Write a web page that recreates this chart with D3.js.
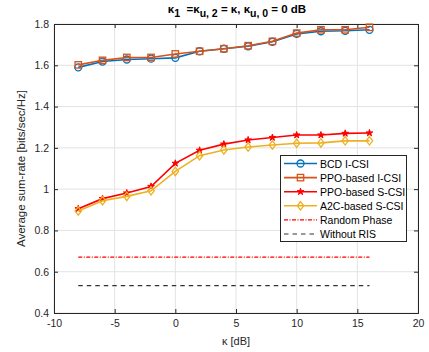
<!DOCTYPE html>
<html>
<head>
<meta charset="utf-8">
<script src="https://cdn.jsdelivr.net/npm/d3@7"></script>
<style>
  body { margin: 0; background: #fff; }
  text { font-family: "Liberation Sans", Arial, sans-serif; }
</style>
</head>
<body>
<svg id="svg" width="429" height="352"></svg>
<script>
const w = 429;
const h = 352;
const margin = { left: 54, right: 11, top: 24, bottom: 39 };

// data
const kappa = [-8, -6, -4, -2, 0, 2, 4, 6, 8, 10, 12, 14, 16];
const bcdICSI = [1.59, 1.618, 1.628, 1.632, 1.636, 1.668, 1.68, 1.692, 1.714, 1.752, 1.765, 1.767, 1.772];
const ppoICSI = [1.602, 1.624, 1.638, 1.638, 1.655, 1.668, 1.68, 1.695, 1.716, 1.756, 1.772, 1.772, 1.784];
const ppoSCSI = [0.905, 0.954, 0.981, 1.013, 1.125, 1.188, 1.218, 1.238, 1.25, 1.262, 1.262, 1.27, 1.272];
const a2cSCSI = [0.894, 0.944, 0.965, 0.992, 1.086, 1.162, 1.19, 1.204, 1.214, 1.222, 1.224, 1.234, 1.234];
const randomPhase = [0.671, 0.671, 0.671, 0.671, 0.671, 0.671, 0.671, 0.671, 0.671, 0.671, 0.671, 0.671, 0.671];
const withoutRIS = [0.533, 0.533, 0.533, 0.533, 0.533, 0.533, 0.533, 0.533, 0.533, 0.533, 0.533, 0.533, 0.533];

const xTicks = [-10, -5, 0, 5, 10, 15, 20];
const yTicks = [0.4, 0.6, 0.8, 1, 1.2, 1.4, 1.6, 1.8];

const series = [
  { name: "BCD I-CSI", values: bcdICSI, color: "#0072BD", marker: "circle", dash: null },
  { name: "PPO-based I-CSI", values: ppoICSI, color: "#D95319", marker: "square", dash: null },
  { name: "PPO-based S-CSI", values: ppoSCSI, color: "#FF0000", marker: "star", dash: null },
  { name: "A2C-based S-CSI", values: a2cSCSI, color: "#EDB120", marker: "diamond", dash: null },
  { name: "Random Phase", values: randomPhase, color: "#FF0000", marker: null, dash: "4,1.5,1,1.5" },
  { name: "Without RIS", values: withoutRIS, color: "#333333", marker: null, dash: "4.5,4" }
];

const svg = d3.select("#svg");

const xScale = d3.scaleLinear([-10, 20], [margin.left, w - margin.right]);
const yScale = d3.scaleLinear([0.4, 1.8], [h - margin.bottom, margin.top]);

const axisColor = "#262626";

// grid
svg.append("g")
  .selectAll("line")
  .data(xTicks)
  .join("line")
  .attr("x1", (d) => xScale(d))
  .attr("x2", (d) => xScale(d))
  .attr("y1", margin.top)
  .attr("y2", h - margin.bottom)
  .attr("stroke", "#e3e3e3")
  .attr("stroke-width", 1);

svg.append("g")
  .selectAll("line")
  .data(yTicks)
  .join("line")
  .attr("x1", margin.left)
  .attr("x2", w - margin.right)
  .attr("y1", (d) => yScale(d))
  .attr("y2", (d) => yScale(d))
  .attr("stroke", "#e3e3e3")
  .attr("stroke-width", 1);

// axes
const fmt = (d) => String(Math.round(d * 10) / 10);

svg.append("g")
  .attr("transform", `translate(0,${h - margin.bottom})`)
  .call(d3.axisBottom(xScale).tickValues(xTicks).tickSize(-4).tickPadding(7).tickFormat(fmt));

svg.append("g")
  .attr("transform", `translate(${margin.left},0)`)
  .call(d3.axisLeft(yScale).tickValues(yTicks).tickSize(-4).tickPadding(5).tickFormat(fmt));

// top/right box with ticks
svg.append("g")
  .attr("transform", `translate(0,${margin.top})`)
  .call(d3.axisTop(xScale).tickValues(xTicks).tickSize(-4).tickFormat(""));
svg.append("g")
  .attr("transform", `translate(${w - margin.right},0)`)
  .call(d3.axisRight(yScale).tickValues(yTicks).tickSize(-4).tickFormat(""));

svg.selectAll(".domain").attr("stroke", axisColor).attr("stroke-width", 1);
svg.selectAll(".tick line").attr("stroke", axisColor);
svg.selectAll(".tick text")
  .attr("fill", axisColor)
  .style("font-size", "10.5px")
  .style("font-family", "Liberation Sans, Arial, sans-serif");

// axis labels
svg.append("text")
  .attr("x", xScale(5))
  .attr("y", 345)
  .attr("text-anchor", "middle")
  .attr("fill", axisColor)
  .style("font-size", "11px")
  .text("κ [dB]");

svg.append("text")
  .attr("transform", `translate(25,${yScale(1.1)}) rotate(-90)`)
  .attr("text-anchor", "middle")
  .attr("fill", axisColor)
  .style("font-size", "11.5px")
  .text("Average sum-rate [bits/sec/Hz]");

// title
const title = svg.append("text")
  .attr("x", 237)
  .attr("y", 13)
  .attr("text-anchor", "middle")
  .attr("fill", "#000")
  .style("font-size", "11.5px")
  .style("font-weight", "bold");
const titleParts = [
  ["κ", 0], ["1", 1], ["  =κ", 0], ["u, 2", 1], [" = κ, κ", 0], ["u, 0", 1], [" = 0 dB", 0]
];
titleParts.forEach(([t, sub], i) => {
  const prevSub = i > 0 ? titleParts[i - 1][1] : 0;
  const dy = sub === prevSub ? 0 : (sub ? 4 : -4);
  title.append("tspan")
    .attr("dy", dy)
    .style("font-size", sub ? "10.5px" : "11.5px")
    .attr("xml:space", "preserve")
    .text(t);
});

// markers
const drawMarker = (g, type, color, x, y) => {
  if (type === "circle") {
    g.append("circle").attr("cx", x).attr("cy", y).attr("r", 3.5)
      .attr("fill", "none").attr("stroke", color).attr("stroke-width", 1.3);
  } else if (type === "square") {
    g.append("rect").attr("x", x - 3.2).attr("y", y - 3.2).attr("width", 6.4).attr("height", 6.4)
      .attr("fill", "none").attr("stroke", color).attr("stroke-width", 1.3);
  } else if (type === "star") {
    g.append("path").attr("transform", `translate(${x},${y})`)
      .attr("d", d3.symbol(d3.symbolStar, 14)())
      .attr("fill", color).attr("stroke", color).attr("stroke-width", 1);
  } else if (type === "diamond") {
    g.append("path").attr("transform", `translate(${x},${y})`)
      .attr("d", "M0,-4.2L3.2,0L0,4.2L-3.2,0Z")
      .attr("fill", "none").attr("stroke", color).attr("stroke-width", 1.3);
  }
};

const lineFunc = d3.line()
  .x((d) => xScale(d[0]))
  .y((d) => yScale(d[1]));

series.forEach((s) => {
  const pts = kappa.map((k, i) => [k, s.values[i]]);
  const g = svg.append("g");
  g.append("path")
    .datum(pts)
    .attr("fill", "none")
    .attr("stroke", s.color)
    .attr("stroke-width", s.marker ? 1.6 : 1.2)
    .attr("stroke-dasharray", s.dash)
    .attr("d", lineFunc);
  if (s.marker) {
    pts.forEach((p) => drawMarker(g, s.marker, s.color, xScale(p[0]), yScale(p[1])));
  }
});

// legend
const lg = svg.append("g");
lg.append("rect")
  .attr("x", 280.5)
  .attr("y", 155.5)
  .attr("width", 126)
  .attr("height", 86)
  .attr("fill", "#fff")
  .attr("stroke", axisColor)
  .attr("stroke-width", 1);

series.forEach((s, i) => {
  const y = 163.5 + i * 14.1;
  lg.append("line")
    .attr("x1", 284).attr("x2", 317)
    .attr("y1", y).attr("y2", y)
    .attr("stroke", s.color)
    .attr("stroke-width", s.marker ? 1.6 : 1.2)
    .attr("stroke-dasharray", s.dash);
  if (s.marker) drawMarker(lg, s.marker, s.color, 300.5, y);
  lg.append("text")
    .attr("x", 320)
    .attr("y", y + 4)
    .attr("fill", "#000")
    .style("font-size", "10.5px")
    .text(s.name);
});
</script>
</body>
</html>
